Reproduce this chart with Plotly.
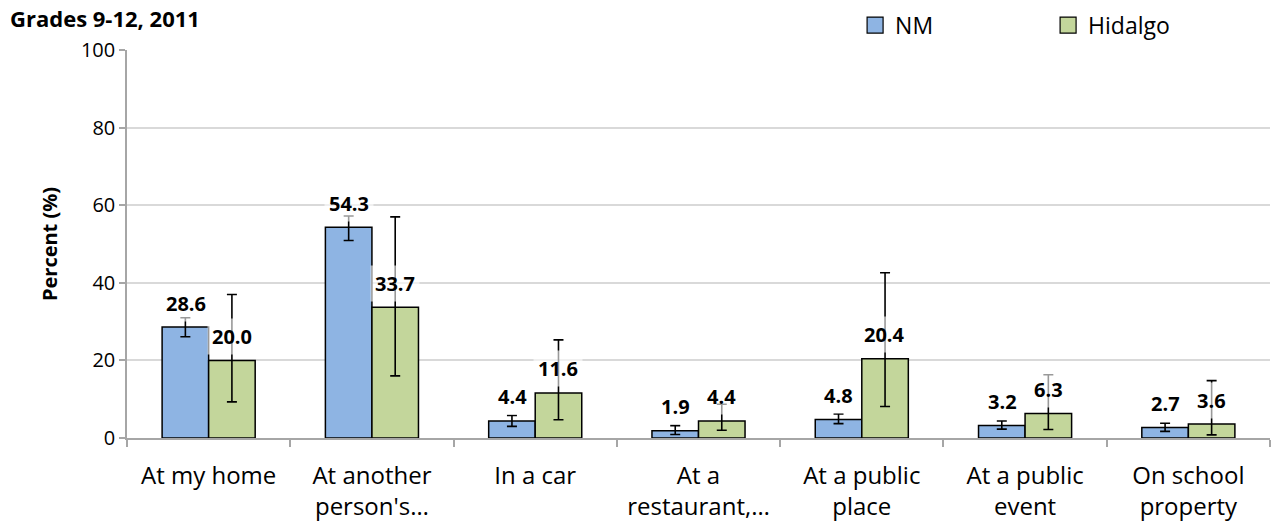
import plotly.graph_objects as go

# Where students got alcohol, grades 9-12 (2011), percent with 95% CI
categories = ["At my home", "At another<br>person's…", "In a car", "At a<br>restaurant,…",
              "At a public<br>place", "At a public<br>event", "On school<br>property"]

nm_values = [28.6, 54.3, 4.4, 1.9, 4.8, 3.2, 2.7]
nm_ci_low = [26.1, 50.9, 3.0, 0.9, 3.7, 2.3, 1.7]
nm_ci_high = [31.0, 57.2, 5.8, 3.2, 6.2, 4.4, 3.8]

hidalgo_values = [20.0, 33.7, 11.6, 4.4, 20.4, 6.3, 3.6]
hidalgo_ci_low = [9.3, 16.0, 4.7, 2.0, 8.1, 2.2, 0.8]
hidalgo_ci_high = [37.0, 57.0, 25.3, 8.7, 42.6, 16.3, 14.8]

y_ticks = [0, 20, 40, 60, 80, 100]

FONT = "Open Sans, Lato, DejaVu Sans, sans-serif"
NM_COLOR = "#8EB4E3"
HID_COLOR = "#C3D69B"


def err(values, low, high):
    return dict(
        type="data", symmetric=False,
        array=[h - v for v, h in zip(values, high)],
        arrayminus=[v - l for v, l in zip(values, low)],
        color="black", thickness=1.6, width=5,
    )


fig = go.Figure()
fig.add_trace(go.Bar(
    name="NM", x=categories, y=nm_values, showlegend=False,
    marker=dict(color=NM_COLOR, line=dict(color="black", width=1.5)),
    error_y=err(nm_values, nm_ci_low, nm_ci_high),
))
fig.add_trace(go.Bar(
    name="Hidalgo", x=categories, y=hidalgo_values, showlegend=False,
    marker=dict(color=HID_COLOR, line=dict(color="black", width=1.5)),
    error_y=err(hidalgo_values, hidalgo_ci_low, hidalgo_ci_high),
))

# Legend entries drawn as larger square swatches
for name, color in (("NM", NM_COLOR), ("Hidalgo", HID_COLOR)):
    fig.add_trace(go.Scatter(
        name=name, x=[categories[0]], y=[None], mode="markers",
        marker=dict(symbol="square", size=17, color=color, line=dict(color="black", width=1.2)),
        hoverinfo="skip",
    ))

# Value labels with a translucent white box, above each bar
for series, shift in ((nm_values, -23), (hidalgo_values, 23)):
    for cat, v in zip(categories, series):
        fig.add_annotation(
            x=cat, y=v, xref="x", yref="y", text=f"<b>{v:.1f}</b>",
            showarrow=False, xshift=shift, yshift=24, yanchor="middle",
            font=dict(family=FONT, size=20, color="black"),
            bgcolor="rgba(255,255,255,0.6)", borderpad=4,
        )

fig.update_layout(
    width=1272, height=529,
    margin=dict(l=127, r=2, t=50, b=91),
    paper_bgcolor="white", plot_bgcolor="white",
    barmode="group", bargap=0.43, bargroupgap=0,
    font=dict(family=FONT, size=20, color="black"),
    title=dict(text="<b>Grades 9-12, 2011</b>", x=10 / 1272, xanchor="left",
               y=1 - 19 / 529, yanchor="middle",
               font=dict(family=FONT, size=22, color="black")),
    legend=dict(orientation="h", x=0.637, xanchor="left", y=1.064, yanchor="middle",
                font=dict(family=FONT, size=23, color="black"),
                entrywidth=148, entrywidthmode="pixels", itemsizing="trace",
                bgcolor="rgba(0,0,0,0)"),
    xaxis=dict(
        showline=True, linecolor="#A6A6A6", linewidth=1.5,
        ticks="outside", tickson="boundaries", ticklen=7, tickcolor="#A6A6A6", tickwidth=1.5,
        tickfont=dict(family=FONT, size=24, color="black"),
        ticklabelstandoff=15,
        showgrid=False,
    ),
    yaxis=dict(
        range=[0, 100], tickvals=y_ticks, ticktext=[str(t) for t in y_ticks],
        showline=True, linecolor="#A6A6A6", linewidth=1.5,
        ticks="outside", ticklen=6, tickcolor="#A6A6A6", tickwidth=1.5,
        showgrid=True, gridcolor="#D9D9D9", gridwidth=1.5,
        tickfont=dict(family=FONT, size=20, color="black"),
        title=dict(text="<b>Percent (%)</b>", font=dict(family=FONT, size=20, color="black"),
                   standoff=18),
        zeroline=False,
    ),
)

fig.write_html("out.html")
